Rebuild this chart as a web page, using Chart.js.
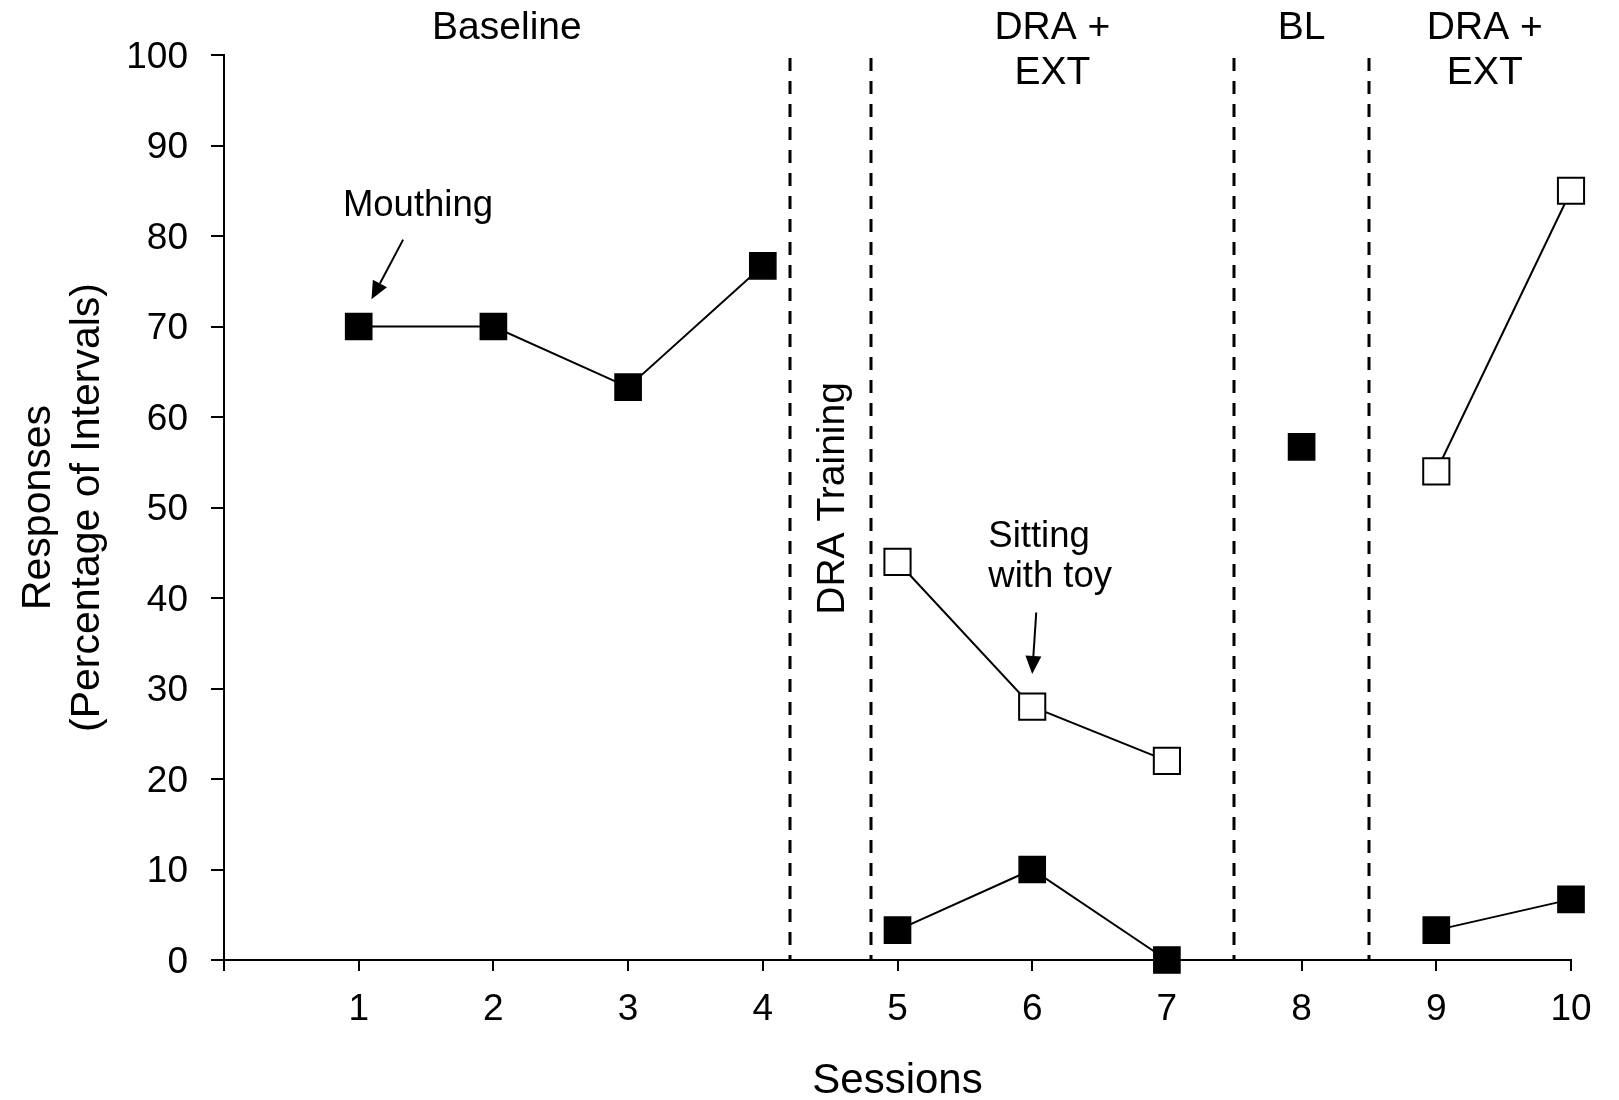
<!DOCTYPE html>
<html>
<head>
<meta charset="utf-8">
<script src="https://cdn.jsdelivr.net/npm/chart.js@4"></script>
<style>
  html, body { margin: 0; padding: 0; background: #fff; }
</style>
</head>
<body>
<canvas id="chart" width="1619" height="1100"></canvas>
<script>
const sessions = [1, 2, 3, 4, 5, 6, 7, 8, 9, 10];
const sessionPhase = [0, 0, 0, 0, 1, 1, 1, 2, 3, 3];
const mouthing = [70, 70, 63.3, 76.7, 3.3, 10, 0, 56.7, 3.3, 6.7];
const sittingWithToy = [null, null, null, null, 44, 28, 22, null, 54, 85];
const yTicks = [0, 10, 20, 30, 40, 50, 60, 70, 80, 90, 100];
const xTicks = [0, 1, 2, 3, 4, 5, 6, 7, 8, 9, 10];
const phaseLines = [4.2, 4.8, 7.5, 8.5];
const phaseNames = [['Baseline'], ['DRA +', 'EXT'], ['BL'], ['DRA +', 'EXT']];
const phaseCenters = [2.1, 6.15, 8, 9.36];

const FONT = '"Liberation Sans", Arial, Helvetica, sans-serif';

// text notes with arrows, in data units
const notes = [
  { lines: ['Mouthing'], x: 1.44, y: 83.3, align: 'center', arrow: [1.33, 79.6, 1.095, 73.0] },
  { lines: ['Sitting', 'with toy'], x: 5.674, y: 46.8, align: 'left', arrow: [6.03, 38.4, 6.0, 31.6] }
];

function points(values) {
  return sessions.map((s, i) => ({ x: s, y: values[i] }));
}

// hide the connecting line where the phase changes
const phaseSegment = {
  borderColor: c => sessionPhase[c.p0DataIndex] === sessionPhase[c.p1DataIndex] ? '#000' : 'rgba(0,0,0,0)'
};

function arrow(ctx, x0, y0, x1, y1) {
  const a = Math.atan2(y1 - y0, x1 - x0);
  const len = 18, half = 8;
  const bx = x1 - len * Math.cos(a), by = y1 - len * Math.sin(a);
  ctx.beginPath();
  ctx.moveTo(x0, y0);
  ctx.lineTo(bx, by);
  ctx.stroke();
  ctx.beginPath();
  ctx.moveTo(x1, y1);
  ctx.lineTo(bx + half * Math.sin(a), by - half * Math.cos(a));
  ctx.lineTo(bx - half * Math.sin(a), by + half * Math.cos(a));
  ctx.closePath();
  ctx.fill();
}

const phasePlugin = {
  id: 'phases',
  beforeDatasetsDraw(chart) {
    const { ctx, chartArea, scales: { x, y } } = chart;
    ctx.save();
    ctx.strokeStyle = '#000';
    ctx.fillStyle = '#000';
    ctx.lineWidth = 3;
    ctx.setLineDash([13, 10]);
    phaseLines.forEach(v => {
      const px = Math.round(x.getPixelForValue(v));
      ctx.beginPath();
      ctx.moveTo(px, y.getPixelForValue(100) + 3);
      ctx.lineTo(px, y.getPixelForValue(0));
      ctx.stroke();
    });
    ctx.setLineDash([]);

    ctx.textAlign = 'center';
    ctx.textBaseline = 'middle';
    ctx.font = '39px ' + FONT;
    phaseNames.forEach((lines, i) => {
      lines.forEach((t, j) => {
        ctx.fillText(t, x.getPixelForValue(phaseCenters[i]), chartArea.top - 27 + j * 45.5);
      });
    });

    ctx.save();
    ctx.translate(x.getPixelForValue(4.52), y.getPixelForValue(51));
    ctx.rotate(-Math.PI / 2);
    ctx.fillText('DRA Training', 0, 0);
    ctx.restore();

    ctx.font = '36.5px ' + FONT;
    ctx.lineWidth = 2;
    notes.forEach(n => {
      ctx.textAlign = n.align;
      n.lines.forEach((t, j) => {
        ctx.fillText(t, x.getPixelForValue(n.x), y.getPixelForValue(n.y) + j * 40);
      });
      const [ax0, ay0, ax1, ay1] = n.arrow;
      arrow(ctx, x.getPixelForValue(ax0), y.getPixelForValue(ay0), x.getPixelForValue(ax1), y.getPixelForValue(ay1));
    });
    ctx.restore();
  }
};

const axisBorder = { display: true, color: '#000', width: 2 };

new Chart(document.getElementById('chart'), {
  type: 'line',
  data: {
    datasets: [
      {
        label: 'Mouthing',
        data: points(mouthing),
        borderColor: '#000',
        borderWidth: 2,
        backgroundColor: '#000',
        pointStyle: 'rect',
        pointRadius: 18.5,
        pointBorderWidth: 1.5,
        pointBackgroundColor: '#000',
        pointBorderColor: '#000',
        segment: phaseSegment,
        spanGaps: false,
        clip: false
      },
      {
        label: 'Sitting with toy',
        data: points(sittingWithToy),
        borderColor: '#000',
        borderWidth: 2,
        backgroundColor: '#fff',
        pointStyle: 'rect',
        pointRadius: 18.5,
        pointBorderWidth: 2,
        pointBackgroundColor: '#fff',
        pointBorderColor: '#000',
        segment: phaseSegment,
        spanGaps: false,
        clip: false
      }
    ]
  },
  options: {
    responsive: false,
    animation: false,
    events: [],
    layout: { padding: { top: 55, right: 48, bottom: 0, left: 0 } },
    plugins: { legend: { display: false }, tooltip: { enabled: false } },
    scales: {
      x: {
        type: 'linear',
        min: 0,
        max: 10,
        afterBuildTicks: s => { s.ticks = xTicks.map(v => ({ value: v })); },
        afterFit: s => { s.height = 140; },
        grid: { drawOnChartArea: false, drawTicks: true, tickLength: 11, color: '#000', lineWidth: 2 },
        border: axisBorder,
        ticks: {
          color: '#000',
          font: { family: FONT, size: 37 },
          padding: 16.5,
          maxRotation: 0,
          autoSkip: false,
          callback: v => (v === 0 ? '' : String(v))
        },
        title: {
          display: true,
          text: 'Sessions',
          color: '#000',
          font: { family: FONT, size: 42, lineHeight: 0.88 },
          padding: 0
        }
      },
      y: {
        min: 0,
        max: 100,
        afterBuildTicks: s => { s.ticks = yTicks.map(v => ({ value: v })); },
        afterFit: s => { s.width = 224; },
        grid: { drawOnChartArea: false, drawTicks: true, tickLength: 13, color: '#000', lineWidth: 2 },
        border: axisBorder,
        ticks: {
          color: '#000',
          font: { family: FONT, size: 37 },
          padding: 23,
          labelOffset: 2.5
        },
        title: {
          display: true,
          text: ['Responses', '(Percentage of Intervals)'],
          color: '#000',
          font: { family: FONT, size: 41, lineHeight: 1.2 },
          padding: { top: 14, bottom: 0 }
        }
      }
    }
  },
  plugins: [phasePlugin]
});
</script>
</body>
</html>
